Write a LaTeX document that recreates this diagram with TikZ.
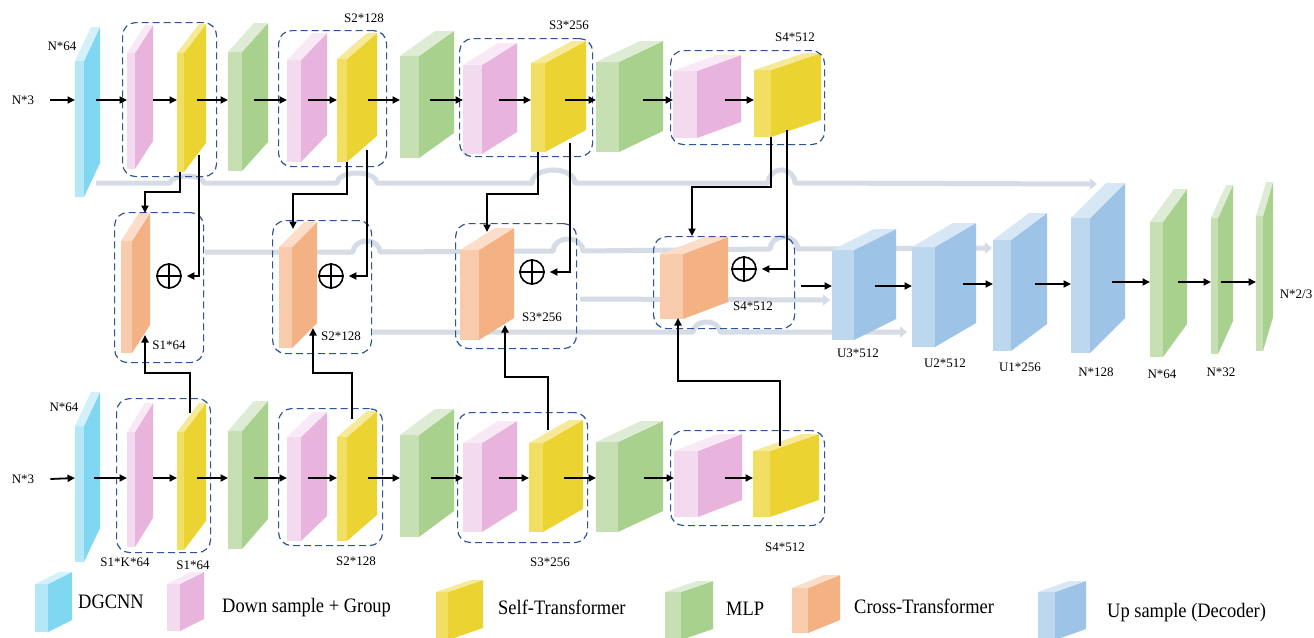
\documentclass[tikz,border=0pt]{standalone}
\usepackage{fontspec}
\usepackage{graphicx}
\setmainfont{Liberation Serif}
\usetikzlibrary{arrows.meta,calc}

% block palettes: F = narrow front face, S = large side face, T = top face
\definecolor{cyF}{HTML}{B4E7F8}\definecolor{cyS}{HTML}{7FD7F1}\definecolor{cyT}{HTML}{D2F1FB}
\definecolor{pkF}{HTML}{F4DAEE}\definecolor{pkS}{HTML}{E8B3DC}\definecolor{pkT}{HTML}{F9E8F5}
\definecolor{ywF}{HTML}{F1DE62}\definecolor{ywS}{HTML}{EBD432}\definecolor{ywT}{HTML}{F6EA98}
\definecolor{gnF}{HTML}{C6E0B4}\definecolor{gnS}{HTML}{A9D18E}\definecolor{gnT}{HTML}{DEEBD5}
\definecolor{orF}{HTML}{F8CBAD}\definecolor{orS}{HTML}{F4B183}\definecolor{orT}{HTML}{FBDDC9}
\definecolor{blF}{HTML}{BDD7EE}\definecolor{blS}{HTML}{9DC3E6}\definecolor{blT}{HTML}{D8E7F5}
\definecolor{skipc}{HTML}{D6DCE5}
\definecolor{boxc}{HTML}{2F5597}

\tikzset{
  arr/.style={line width=1.8pt,-{Triangle[length=7.5pt,width=7pt]}},
  skip/.style={line width=5pt,draw=skipc,line join=round,-{Triangle[length=7pt,width=11pt]}},
  dbox/.style={draw=boxc,line width=1.2pt,dash pattern=on 7pt off 4pt,rounded corners=13pt,inner sep=0pt},
  lbl/.style={font=\fontsize{13}{15}\selectfont,inner sep=0pt},
  legtxt/.style={inner sep=0pt,anchor=base west},
  plus/.style={circle,draw,line width=1.6pt,minimum size=24pt,inner sep=0pt},
}

% \slab{name}{x}{front width}{top}{bottom}{depth dx}{depth dy}{palette}
\newcommand{\slab}[8]{%
  \fill[#8F] (#2,#4) rectangle ({#2+#3},#5);
  \fill[#8S] ({#2+#3},#4) -- ({#2+#3+#6},{#4-#7}) -- ({#2+#3+#6},{#5-#7}) -- ({#2+#3},#5) -- cycle;
  \fill[#8T] (#2,#4) -- ({#2+#3},#4) -- ({#2+#3+#6},{#4-#7}) -- ({#2+#6},{#4-#7}) -- cycle;
  \node[inner sep=0pt,outer sep=0pt,minimum width={(#3+#6)*1pt},minimum height={(#5-#4+#7)*1pt},anchor=north west] (#1) at (#2,{#4-#7}) {};
}
% \grp{name}{x1}{y1}{x2}{y2}: dashed group frame
\newcommand{\grp}[5]{%
  \node[dbox,anchor=north west,minimum width={(#4-#2)*1pt},minimum height={(#5-#3)*1pt}] (#1) at (#2,#3) {};
}
% \harr{from}{to}{start shift}{row}: horizontal flow arrow
\newcommand{\harr}[4]{\draw[arr] ($(#1.east |- #4)+(#3,0)$) -- (#2.west |- #4);}
% legend label, slightly narrow
\newcommand{\legtext}[1]{\scalebox{0.9}[1]{\fontsize{20.5}{24}\selectfont #1}}

\begin{document}
\begin{tikzpicture}[x=1pt,y=-1pt]
\fill[white] (0,0) rectangle (1314,637);
\useasboundingbox (0,0) rectangle (1314,637);

% row levels of the flow arrows
\coordinate (r1) at (0,100);
\coordinate (r2) at (0,478);
\coordinate (r3) at (0,286);
\coordinate (r4) at (0,284);
\coordinate (r5) at (0,282);

% ---------------- skip connections (behind everything) ----------------
\coordinate (s1) at (96,183);   \coordinate (e1) at (1097,184);
\coordinate (s2) at (205,252);  \coordinate (e2) at (992,248);
\coordinate (s3) at (580,299);  \coordinate (e3) at (830,300);
\coordinate (s4) at (373,332);  \coordinate (e4) at (907,332);
\draw[skip] (s1) -- (170,183) arc[start angle=180,end angle=0,x radius=17pt,y radius=7pt]
  -- (337,183) arc[start angle=180,end angle=0,x radius=20pt,y radius=10pt]
  -- (532,183) arc[start angle=180,end angle=0,x radius=21.5pt,y radius=13pt]
  -- (768,183) arc[start angle=180,end angle=0,x radius=13.5pt,y radius=13pt]
  -- (e1);
\draw[skip] (s2) -- (353,252) arc[start angle=180,end angle=0,x radius=13.5pt,y radius=11pt]
  -- (553,251) arc[start angle=180,end angle=0,x radius=15pt,y radius=12pt]
  -- (770,249) arc[start angle=180,end angle=0,x radius=14pt,y radius=12pt]
  -- (e2);
\draw[skip] (s3) -- (e3);
\draw[skip] (s4) -- (693,332) arc[start angle=180,end angle=0,x radius=13.5pt,y radius=10pt]
  -- (e4);

% ---------------- upper encoder ----------------
\slab{dgT}{75}{9}{61}{197}{16}{34}{cy}
\slab{pkT1}{127}{8}{53}{169}{18}{28}{pk}
\slab{ywT1}{177}{7}{53}{172}{22}{29}{yw}
\slab{gnT1}{228}{14}{52}{171}{26}{29}{gn}
\slab{pkT2}{287}{14}{60}{162}{26}{27}{pk}
\slab{ywT2}{337}{10}{59}{162}{30}{26}{yw}
\slab{gnT2}{400}{19}{56}{158}{35}{25}{gn}
\slab{pkT3}{463}{19}{65}{154}{35}{22}{pk}
\slab{ywT3}{531}{14}{63}{152}{41}{22}{yw}
\slab{gnT3}{596}{23}{62}{152}{44}{21}{gn}
\slab{pkT4}{673}{24}{71}{138}{44}{16}{pk}
\slab{ywT4}{754}{17}{70}{137}{50}{17}{yw}
\grp{bxT1}{122}{22}{216}{176}
\grp{bxT2}{278}{30}{386}{166}
\grp{bxT3}{459}{38}{592}{156}
\grp{bxT4}{670}{50}{824}{144}

% ---------------- lower encoder ----------------
\slab{dgB}{75}{9}{426}{562}{16}{34}{cy}
\slab{pkB1}{127}{8}{432}{547}{18}{29}{pk}
\slab{ywB1}{177}{7}{432}{550}{22}{29}{yw}
\slab{gnB1}{228}{14}{431}{549}{26}{30}{gn}
\slab{pkB2}{287}{14}{437}{541}{26}{25}{pk}
\slab{ywB2}{337}{10}{437}{541}{30}{26}{yw}
\slab{gnB2}{400}{19}{435}{537}{35}{26}{gn}
\slab{pkB3}{463}{19}{443}{532}{35}{22}{pk}
\slab{ywB3}{529}{14}{443}{532}{40}{23}{yw}
\slab{gnB3}{596}{22}{442}{532}{45}{21}{gn}
\slab{pkB4}{674}{24}{451}{517}{44}{17}{pk}
\slab{ywB4}{753}{17}{451}{517}{49}{17}{yw}
\grp{bxB1}{116}{398}{210}{552}
\grp{bxB2}{278}{408}{382}{545}
\grp{bxB3}{457}{412}{587}{542}
\grp{bxB4}{670}{430}{824}{525}

% ---------------- cross-transformer fusion ----------------
\slab{cr1}{121}{11}{241}{353}{18}{28}{or}
\slab{cr2}{279}{13}{247}{348}{25}{25}{or}
\slab{cr3}{460}{19}{250}{340}{35}{22}{or}
\slab{cr4}{660}{23}{254}{319}{45}{17}{or}
\grp{bxC1}{114}{212}{203}{362}
\grp{bxC2}{272}{220}{371}{353}
\grp{bxC3}{455}{223}{576}{348}
\grp{bxC4}{653}{236}{794}{328}
\node[plus] (p1) at (169,276) {};
\node[plus] (p2) at (331,276) {};
\node[plus] (p3) at (532,272) {};
\node[plus] (p4) at (744,269) {};
\foreach \p in {p1,p2,p3,p4}{
  \draw[line width=1.6pt] (\p.north) -- (\p.south) (\p.west) -- (\p.east);
}

% ---------------- decoder ----------------
\slab{u3}{832}{22}{250}{340}{42}{21}{bl}
\slab{u2}{912}{23}{247}{347}{41}{24}{bl}
\slab{u1}{993}{18}{240}{351}{36}{27}{bl}
\slab{n128}{1071}{19}{218}{353}{35}{35}{bl}
\slab{n64}{1150}{13}{222}{357}{24}{33}{gn}
\slab{n32}{1211}{7}{218}{354}{15}{33}{gn}
\slab{nout}{1256}{7}{216}{351}{10}{34}{gn}

% ---------------- flow arrows ----------------
\node[lbl] (inT) at (23,100) {N*3};
\node[lbl] (inB) at (23,479) {N*3};
\draw[arr] ($(inT.east)+(16,0)$) -- (dgT.west |- r1);
\draw[arr] ($(inB.east)+(16,0)$) -- (dgB.west |- r2);
\harr{dgT}{pkT1}{-4}{r1}
\harr{pkT1}{ywT1}{0}{r1}
\harr{ywT1}{gnT1}{-9}{r1}
\harr{gnT1}{pkT2}{-14}{r1}
\harr{pkT2}{ywT2}{-19}{r1}
\harr{ywT2}{gnT2}{-9}{r1}
\harr{gnT2}{pkT3}{-24}{r1}
\harr{pkT3}{ywT3}{-18}{r1}
\harr{ywT3}{gnT3}{-21}{r1}
\harr{gnT3}{pkT4}{-20}{r1}
\harr{pkT4}{ywT4}{-16}{r1}
\harr{dgB}{pkB1}{-6}{r2}
\harr{pkB1}{ywB1}{0}{r2}
\harr{ywB1}{gnB1}{-9}{r2}
\harr{gnB1}{pkB2}{-14}{r2}
\harr{pkB2}{ywB2}{-19}{r2}
\harr{ywB2}{gnB2}{-9}{r2}
\harr{gnB2}{pkB3}{-23}{r2}
\harr{pkB3}{ywB3}{-18}{r2}
\harr{ywB3}{gnB3}{-19}{r2}
\harr{gnB3}{pkB4}{-19}{r2}
\harr{pkB4}{ywB4}{-17}{r2}
\harr{bxC4}{u3}{6}{r3}
\harr{u3}{u2}{-21}{r3}
\harr{u2}{u1}{-13}{r4}
\harr{u1}{n128}{-12}{r4}
\harr{n128}{n64}{-13}{r5}
\harr{n64}{n32}{-9}{r5}
\harr{n32}{nout}{-12}{r5}

% ---------------- taps into the fusion blocks ----------------
\coordinate (tA1) at (180,172); \coordinate (tB1) at (199,155);
\coordinate (tA2) at (347,162); \coordinate (tB2) at (367,150);
\coordinate (tA3) at (538,152); \coordinate (tB3) at (570,143);
\coordinate (tA4) at (771,137); \coordinate (tB4) at (787,130);
\coordinate (cN1) at (145,213); \coordinate (cN2) at (293,229);
\coordinate (cN3) at (487,232); \coordinate (cN4) at (692,236);
\coordinate (bA1) at (190,413); \coordinate (bA2) at (352,419);
\coordinate (bA3) at (548,430); \coordinate (bA4) at (780,446);
\coordinate (cS1) at (145,335); \coordinate (cS2) at (313,328);
\coordinate (cS3) at (505,325); \coordinate (cS4) at (678,318);

\draw[arr] (tA1) -- ++(0,20) -| (cN1);
\draw[arr] (tA2) -- ++(0,32) -| (cN2);
\draw[arr] (tA3) -- ++(0,42) -| (cN3);
\draw[arr] (tA4) -- ++(0,50) -| (cN4);
\draw[arr,shorten >=5pt] (tB1) |- (p1);
\draw[arr,shorten >=5pt] (tB2) |- (p2);
\draw[arr,shorten >=5pt] (tB3) |- (p3);
\draw[arr,shorten >=5pt] (tB4) |- (p4);
\draw[arr] (bA1) -- ++(0,-40) -| (cS1);
\draw[arr] (bA2) -- ++(0,-46) -| (cS2);
\draw[arr] (bA3) -- ++(0,-53) -| (cS3);
\draw[arr] (bA4) -- ++(0,-65) -| (cS4);

% ---------------- size labels ----------------
\node[lbl] (lT0) at (62,46) {N*64};
\node[lbl] (lT2) at (364,18) {S2*128};
\node[lbl] (lT3) at (569,25) {S3*256};
\node[lbl] (lT4) at (795,37) {S4*512};
\node[lbl] (lC1) at (169,345) {S1*64};
\node[lbl] (lC2) at (341,336) {S2*128};
\node[lbl] (lC3) at (542,317) {S3*256};
\node[lbl] (lC4) at (753,306) {S4*512};
\node[lbl] (lU3) at (858,353) {U3*512};
\node[lbl] (lU2) at (945,363) {U2*512};
\node[lbl] (lU1) at (1020,367) {U1*256};
\node[lbl] (lN128) at (1096,372) {N*128};
\node[lbl] (lN64) at (1162,374) {N*64};
\node[lbl] (lN32) at (1221,372) {N*32};
\node[lbl] (lOut) at (1296,294) {N*2/3};
\node[lbl] (lB0) at (64,407) {N*64};
\node[lbl] (lB1a) at (125,562) {S1*K*64};
\node[lbl] (lB1) at (193,565) {S1*64};
\node[lbl] (lB2) at (356,561) {S2*128};
\node[lbl] (lB3) at (550,562) {S3*256};
\node[lbl] (lB4) at (785,547) {S4*512};

% ---------------- legend ----------------
\slab{kDg}{35}{13}{584}{632}{24}{12}{cy}
\slab{kPk}{167}{13}{584}{631}{24}{12}{pk}
\slab{kYw}{436}{12}{592}{640}{35}{12}{yw}
\slab{kGn}{665}{16}{592}{640}{32}{11}{gn}
\slab{kOr}{792}{16}{588}{633}{32}{13}{or}
\slab{kBl}{1038}{17}{592}{640}{31}{11}{bl}
\node[legtxt] (tDg) at (78,608) {\legtext{DGCNN}};
\node[legtxt] (tPk) at (222,612) {\legtext{Down sample + Group}};
\node[legtxt] (tYw) at (498,614) {\legtext{Self-Transformer}};
\node[legtxt] (tGn) at (726,615) {\legtext{MLP}};
\node[legtxt] (tOr) at (854,613) {\legtext{Cross-Transformer}};
\node[legtxt] (tBl) at (1107,617) {\legtext{Up sample (Decoder)}};
\end{tikzpicture}
\end{document}
